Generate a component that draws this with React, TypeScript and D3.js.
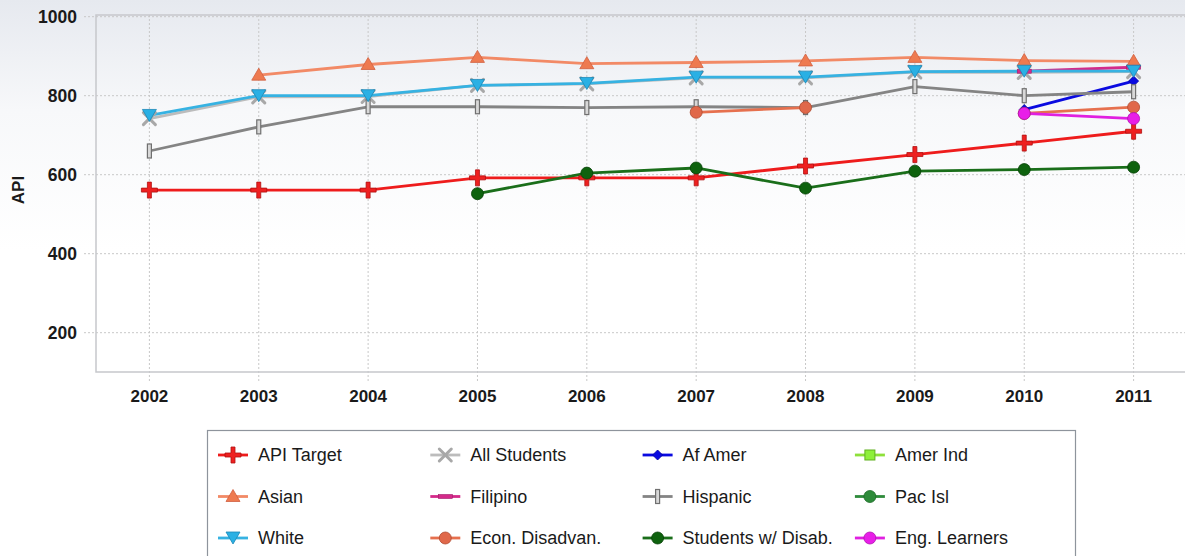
import React from "react";
import * as d3 from "d3";

const years = ["2002","2003","2004","2005","2006","2007","2008","2009","2010","2011"];
const yTicks = [200, 400, 600, 800, 1000];

const apiTarget = [561, 561, 561, 592, 592, 592, 622, 651, 680, 710];
const allStudents = [742, 797, 798, 826, 830, 845, 845, 860, 859, 861];
const afAmer = [null, null, null, null, null, null, null, null, 765, 837];
const amerInd: (number | null)[] = [null, null, null, null, null, null, null, null, null, null];
const asian = [null, 852, 879, 897, 881, 884, 888, 897, 889, 887];
const filipino = [null, null, null, null, null, null, null, null, 862, 872];
const hispanic = [660, 721, 772, 772, 770, 772, 770, 823, 800, 810];
const pacIsl: (number | null)[] = [null, null, null, null, null, null, null, null, null, null];
const white = [750, 800, 800, 826, 831, 847, 847, 861, 862, 862];
const econDisadvan = [null, null, null, null, null, 758, 770, null, 755, 771];
const studentsDisab = [null, null, null, 552, 604, 617, 566, 609, 613, 619];
const engLearners = [null, null, null, null, null, null, null, null, 755, 742];

type Series = { name: string; values: (number | null)[]; color: string; marker: string; mColor: string; mStroke: string };

const series: Series[] = [
  { name: "API Target", values: apiTarget, color: "#ee1c1c", marker: "plus", mColor: "#ee2020", mStroke: "#b01010" },
  { name: "All Students", values: allStudents, color: "#bcbcbc", marker: "x", mColor: "#a8a8a8", mStroke: "#a8a8a8" },
  { name: "Af Amer", values: afAmer, color: "#0a0ae0", marker: "diamond", mColor: "#0a0ae0", mStroke: "#0000a0" },
  { name: "Amer Ind", values: amerInd, color: "#8ee03a", marker: "square", mColor: "#8ef03a", mStroke: "#60b020" },
  { name: "Asian", values: asian, color: "#f28a66", marker: "triUp", mColor: "#ee7a50", mStroke: "#d06040" },
  { name: "Filipino", values: filipino, color: "#d42a8a", marker: "dash", mColor: "#d42a8a", mStroke: "#a01a6a" },
  { name: "Hispanic", values: hispanic, color: "#848484", marker: "bar", mColor: "#d8d8d8", mStroke: "#707070" },
  { name: "Pac Isl", values: pacIsl, color: "#2e8b3a", marker: "circle", mColor: "#2e8b3a", mStroke: "#1a6a26" },
  { name: "White", values: white, color: "#36b2e2", marker: "triDown", mColor: "#2ab0e4", mStroke: "#1a88b8" },
  { name: "Econ. Disadvan.", values: econDisadvan, color: "#e6704e", marker: "circle", mColor: "#e0684a", mStroke: "#b04a30" },
  { name: "Students w/ Disab.", values: studentsDisab, color: "#1a6e1a", marker: "circle", mColor: "#0e620e", mStroke: "#064006" },
  { name: "Eng. Learners", values: engLearners, color: "#e020e0", marker: "circle", mColor: "#e81ee8", mStroke: "#b010b0" },
];

function Marker({ type, x, y, fill, stroke }: { type: string; x: number; y: number; fill: string; stroke: string }) {
  const t = `translate(${x},${y})`;
  switch (type) {
    case "plus":
      return <path transform={t} d="M-2,-8H2V-2H8V2H2V8H-2V2H-8V-2H-2Z" fill={fill} stroke={stroke} strokeWidth={0.8} />;
    case "x":
      return (
        <g transform={t} stroke={fill} strokeWidth={3} strokeLinecap="round">
          <line x1={-6} y1={-6} x2={6} y2={6} />
          <line x1={-6} y1={6} x2={6} y2={-6} />
        </g>
      );
    case "diamond":
      return <path transform={t} d="M0,-5L5,0L0,5L-5,0Z" fill={fill} stroke={stroke} strokeWidth={0.8} />;
    case "square":
      return <rect x={x - 5} y={y - 5} width={10} height={10} fill={fill} stroke={stroke} strokeWidth={1} />;
    case "triUp":
      return <path transform={t} d="M0,-7L7,5H-7Z" fill={fill} stroke={stroke} strokeWidth={0.8} />;
    case "triDown":
      return <path transform={t} d="M0,6L7,-6H-7Z" fill={fill} stroke={stroke} strokeWidth={0.8} />;
    case "dash":
      return <rect x={x - 7} y={y - 2} width={14} height={4} fill={fill} stroke={stroke} strokeWidth={0.6} />;
    case "bar":
      return <rect x={x - 2} y={y - 7} width={4} height={14} fill={fill} stroke={stroke} strokeWidth={1.2} />;
    case "circle":
    default:
      return <circle cx={x} cy={y} r={6} fill={fill} stroke={stroke} strokeWidth={0.8} />;
  }
}

export default function App() {
  const W = 1185, H = 556;
  const plotLeft = 96, plotTop = 15, plotBottom = 372;
  const x = d3.scalePoint<string>().domain(years).range([149.4, 1133.6]);
  const y = d3.scaleLinear().domain([100, 1000]).range([372.2, 16.7]);

  const line = d3
    .line<number | null>()
    .defined((d) => d !== null)
    .x((_, i) => x(years[i]) as number)
    .y((d) => y(d as number));

  const font = "'Liberation Sans', Arial, sans-serif";
  const legendX0 = 218, legendColStep = 212.3, legendY0 = 455, legendRowStep = 41.5;

  return (
    <svg width={W} height={H} style={{ position: "absolute", left: 0, top: 0, display: "block" }}>
      <defs>
        <linearGradient id="bg" x1="0" y1="0" x2="0" y2="1">
          <stop offset="0" stopColor="#e6e9ef" />
          <stop offset="0.2" stopColor="#f7f8fa" />
          <stop offset="0.45" stopColor="#ffffff" />
          <stop offset="1" stopColor="#ffffff" />
        </linearGradient>
      </defs>
      <rect x={0} y={0} width={W} height={H} fill="url(#bg)" />

      {yTicks.map((t) => (
        <line key={"h" + t} x1={84} x2={W} y1={y(t)} y2={y(t)} stroke="#c8c8c8" strokeWidth={1} strokeDasharray="2,2" />
      ))}
      {years.map((yr) => (
        <line key={"v" + yr} x1={x(yr)} x2={x(yr)} y1={plotTop} y2={383} stroke="#c8c8c8" strokeWidth={1} strokeDasharray="2,2" />
      ))}
      <path d={`M${W},${plotTop}H${plotLeft}V${plotBottom}H${W}`} fill="none" stroke="#c6c8cc" strokeWidth={1.5} />

      {yTicks.map((t) => (
        <text key={"yl" + t} x={77} y={y(t)} dy="0.36em" textAnchor="end" fontFamily={font} fontWeight="bold" fontSize={17.5} fill="#1a1a1a">
          {t}
        </text>
      ))}
      {years.map((yr) => (
        <text key={"xl" + yr} x={x(yr)} y={396} dy="0.36em" textAnchor="middle" fontFamily={font} fontWeight="bold" fontSize={17} fill="#1a1a1a">
          {yr}
        </text>
      ))}
      <text transform="translate(18,190) rotate(-90)" textAnchor="middle" dy="0.36em" fontFamily={font} fontWeight="bold" fontSize={17} fill="#1a1a1a">
        API
      </text>

      {series.map((s) => (
        <path key={"l" + s.name} d={line(s.values) || ""} fill="none" stroke={s.color} strokeWidth={2.8} strokeLinejoin="round" />
      ))}
      {series.map((s) => (
        <g key={"m" + s.name}>
          {s.values.map((v, i) =>
            v === null ? null : (
              <Marker key={i} type={s.marker} x={x(years[i]) as number} y={y(v)} fill={s.mColor} stroke={s.mStroke} />
            )
          )}
        </g>
      ))}

      <rect x={207.5} y={430.5} width={868} height={140} fill="#ffffff" stroke="#8e949c" strokeWidth={1.2} />
      {series.map((s, i) => {
        const col = i % 4, row = Math.floor(i / 4);
        const lx = legendX0 + col * legendColStep;
        const ly = legendY0 + row * legendRowStep;
        return (
          <g key={"lg" + s.name}>
            <line x1={lx} x2={lx + 30} y1={ly} y2={ly} stroke={s.color} strokeWidth={2.8} />
            <Marker type={s.marker} x={lx + 15} y={ly} fill={s.mColor} stroke={s.mStroke} />
            <text x={lx + 40} y={ly} dy="0.36em" fontFamily={font} fontSize={18} fill="#1a1a1a">
              {s.name}
            </text>
          </g>
        );
      })}
    </svg>
  );
}
